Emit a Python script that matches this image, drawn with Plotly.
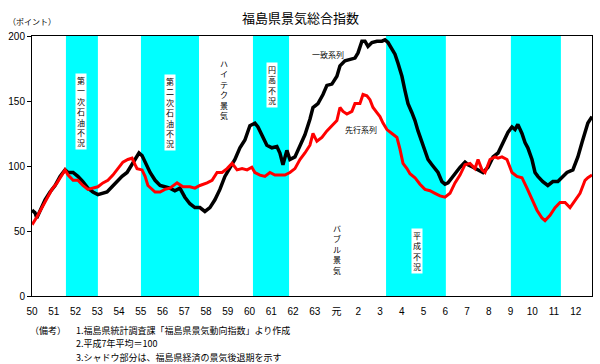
import plotly.graph_objects as go

# ---- data (x = years elapsed since 昭和50年 start) ----
tick_labels = ["50", "51", "52", "53", "54", "55", "56", "57", "58", "59", "60", "61", "62", "63",
               "元", "2", "3", "4", "5", "6", "7", "8", "9", "10", "11", "12"]
tick_years = list(range(len(tick_labels)))

black_t = [0.00, 0.14, 0.22, 0.37, 0.60, 0.83, 1.06, 1.29, 1.52, 1.66, 1.89, 2.11, 2.34, 2.57, 2.80,
           3.03, 3.22, 3.45, 3.68, 3.91, 4.14, 4.37, 4.60, 4.83, 4.92, 5.06, 5.20, 5.43, 5.66, 5.89,
           6.11, 6.34, 6.57, 6.80, 7.03, 7.26, 7.49, 7.72, 7.95, 8.18, 8.41, 8.64, 8.87, 9.10, 9.33,
           9.56, 9.79, 10.02, 10.25, 10.39, 10.57, 10.80, 11.03, 11.26, 11.40, 11.54, 11.72, 11.86,
           12.09, 12.32, 12.55, 12.78, 12.92, 13.15, 13.38, 13.56, 13.79, 14.02, 14.16, 14.39, 14.62,
           14.85, 14.99, 15.17, 15.31, 15.45, 15.63, 15.86, 16.09, 16.23, 16.37, 16.55, 16.69, 16.83,
           17.01, 17.15, 17.29, 17.47, 17.61, 17.75, 17.93, 18.07, 18.21, 18.39, 18.53, 18.67, 18.85,
           18.99, 19.13, 19.22, 19.45, 19.68, 19.91, 20.05, 20.28, 20.51, 20.74, 20.97, 21.20, 21.43,
           21.66, 21.89, 22.07, 22.21, 22.34, 22.53, 22.67, 22.80, 22.99, 23.13, 23.26, 23.49, 23.72,
           23.95, 24.18, 24.37, 24.60, 24.87, 25.10, 25.29, 25.43, 25.56, 25.75]
black_v = [66, 64, 60, 66, 74, 80, 85, 92, 97, 95, 95, 92, 88, 83, 80,
           78, 79, 80, 84, 88, 92, 95, 101, 107, 110, 108, 103, 95, 89, 85,
           84, 83, 81, 83, 76, 71, 68, 68, 65, 68, 74, 82, 92, 99, 105,
           114, 120, 131, 133, 130, 124, 116, 114, 115, 110, 101, 112, 105,
           107, 115, 124, 136, 145, 148, 155, 162, 163, 169, 177, 181, 182,
           183, 187, 196, 196, 192, 195, 196, 196, 197, 195, 190, 186, 179,
           169, 158, 148, 141, 135, 127, 118, 112, 105, 101, 98, 95, 88,
           86, 87, 89, 95, 99, 103, 101, 99, 97, 95, 99, 107, 110,
           118, 126, 130, 128, 132, 125, 118, 114, 105, 95, 92, 88, 85,
           88, 88, 91, 95, 97, 107, 118, 125, 133, 138]

red_t = [0.00, 0.05, 0.23, 0.46, 0.69, 0.92, 1.15, 1.38, 1.52, 1.66, 1.89, 2.11, 2.34, 2.57, 2.80,
         3.03, 3.26, 3.49, 3.72, 3.95, 4.18, 4.41, 4.60, 4.74, 4.83, 5.06, 5.20, 5.33, 5.52, 5.66,
         5.89, 6.11, 6.34, 6.67, 6.94, 7.26, 7.49, 7.72, 8.05, 8.28, 8.51, 8.74, 8.97, 9.20, 9.43,
         9.66, 9.89, 10.11, 10.25, 10.48, 10.71, 10.94, 11.17, 11.40, 11.63, 11.86, 12.09, 12.32,
         12.55, 12.78, 12.92, 13.10, 13.33, 13.56, 13.79, 14.02, 14.16, 14.30, 14.48, 14.71, 14.85,
         15.08, 15.22, 15.40, 15.54, 15.68, 15.86, 16.00, 16.14, 16.32, 16.55, 16.78, 16.92, 17.06,
         17.24, 17.38, 17.61, 17.84, 18.07, 18.30, 18.53, 18.76, 18.99, 19.22, 19.45, 19.68, 19.91,
         20.14, 20.37, 20.51, 20.69, 20.83, 21.06, 21.29, 21.43, 21.61, 21.84, 22.07, 22.30, 22.53,
         22.76, 22.99, 23.22, 23.45, 23.59, 23.82, 24.05, 24.28, 24.51, 24.74, 24.97, 25.20, 25.43,
         25.56, 25.75]
red_v = [57, 56, 61, 68, 75, 82, 87, 93, 97, 93, 89, 89, 85, 82, 83,
         84, 87, 89, 93, 98, 103, 105, 106, 101, 98, 97, 92, 85, 82, 80,
         80, 82, 83, 87, 84, 84, 83, 85, 87, 89, 95, 95, 98, 102, 97,
         98, 97, 99, 95, 93, 92, 95, 93, 93, 93, 95, 98, 105,
         110, 116, 125, 119, 122, 127, 131, 135, 145, 142, 140, 142, 148,
         148, 155, 154, 151, 145, 141, 138, 133, 128, 125, 122, 113, 102,
         98, 94, 91, 86, 82, 81, 79, 77, 76, 79, 87, 93, 101,
         102, 98, 105, 97, 95, 105, 107, 106, 107, 105, 95, 92, 91,
         83, 74, 66, 60, 58, 62, 68, 72, 72, 68, 74, 79, 89,
         91, 93]

recession_start = [1.56, 5.01, 10.16, 16.28, 22.02]
recession_end = [3.03, 7.68, 11.82, 19.03, 24.32]

note_lines = ["1.福島県統計調査課「福島県景気動向指数」より作成",
              "2.平成7年平均＝100",
              "3.シャドウ部分は、福島県経済の景気後退期を示す"]

# ---- figure ----
W, H = 600, 364
ML, MR, MT, MB = 32, 8, 36, 68
PW, PH = W - ML - MR, H - MT - MB


def px_x(px):
    return (px - ML) / PW


def px_y(py):
    return (H - MB - py) / PH


CJK = "Noto Sans CJK JP, sans-serif"
LAT = "Liberation Sans, Arial, Noto Sans CJK JP, sans-serif"

fig = go.Figure()
fig.add_trace(go.Scatter(x=black_t, y=black_v, mode="lines", name="一致系列",
                         line=dict(color="#000000", width=3.5)))
fig.add_trace(go.Scatter(x=red_t, y=red_v, mode="lines", name="先行系列",
                         line=dict(color="#FF0000", width=3)))

for s, e in zip(recession_start, recession_end):
    fig.add_shape(type="rect", xref="x", yref="y", x0=s, x1=e, y0=0, y1=200,
                  fillcolor="#00FFFF", line=dict(width=0), layer="below")


def vtext(s):
    return "<br>".join(list(s))


# vertical labels in chart
boxed = [("第一次石油不況", 2.25, 142), ("第二次石油不況", 6.34, 141),
         ("円高不況", 11.03, 162), ("平成不況", 17.70, 35)]
for txt, x, y in boxed:
    fig.add_annotation(x=x, y=y, xref="x", yref="y", text=vtext(txt), showarrow=False,
                       font=dict(family=CJK, size=8, color="#000000"), bgcolor="#FFFFFF",
                       borderpad=1, align="center")

plain = [("ハイテク景気", 8.83, 159), ("バブル景気", 14.02, 36)]
for txt, x, y in plain:
    fig.add_annotation(x=x, y=y, xref="x", yref="y", text=vtext(txt), showarrow=False,
                       font=dict(family=CJK, size=8, color="#000000"), align="center")

series_labels = [("一致系列", 13.61, 186), ("先行系列", 15.13, 128)]
for txt, x, y in series_labels:
    fig.add_annotation(x=x, y=y, xref="x", yref="y", text=txt, showarrow=False,
                       font=dict(family=CJK, size=8, color="#000000"))

# title and unit
fig.add_annotation(x=px_x(300), y=px_y(17), xref="paper", yref="paper", text="福島県景気総合指数",
                   showarrow=False, font=dict(family=CJK, size=13, color="#000000"),
                   xanchor="center", yanchor="middle")
fig.add_annotation(x=px_x(6), y=px_y(22), xref="paper", yref="paper", text="（ポイント）",
                   showarrow=False, font=dict(family=CJK, size=8, color="#000000"),
                   xanchor="left", yanchor="middle")

# notes
fig.add_annotation(x=px_x(28), y=px_y(330), xref="paper", yref="paper", text="（備考）",
                   showarrow=False, font=dict(family=CJK, size=9, color="#000000"),
                   xanchor="left", yanchor="middle")
for i, line in enumerate(note_lines):
    fig.add_annotation(x=px_x(74), y=px_y(330 + 13.5 * i), xref="paper", yref="paper",
                       text=line, showarrow=False,
                       font=dict(family=CJK, size=9, color="#000000"),
                       xanchor="left", yanchor="middle")

fig.update_layout(
    width=W, height=H,
    margin=dict(l=ML, r=MR, t=MT, b=MB),
    paper_bgcolor="#FFFFFF", plot_bgcolor="#FFFFFF",
    showlegend=False,
    xaxis=dict(range=[0, 25.75], tickvals=tick_years, ticktext=tick_labels,
               showgrid=False, zeroline=False, showline=True, mirror=True,
               linecolor="#000000", linewidth=1, ticks="", ticklabelstandoff=6,
               tickfont=dict(family=LAT, size=10, color="#000000")),
    yaxis=dict(range=[0, 200], tickvals=[0, 50, 100, 150, 200],
               showgrid=False, zeroline=False, showline=True, mirror=True,
               linecolor="#000000", linewidth=1, ticks="outside", ticklen=4,
               tickcolor="#000000",
               tickfont=dict(family=LAT, size=10, color="#000000")),
)

fig.write_html("out.html", config={"displayModeBar": False},
               post_script="document.body.style.margin='0';document.body.style.padding='0';")
